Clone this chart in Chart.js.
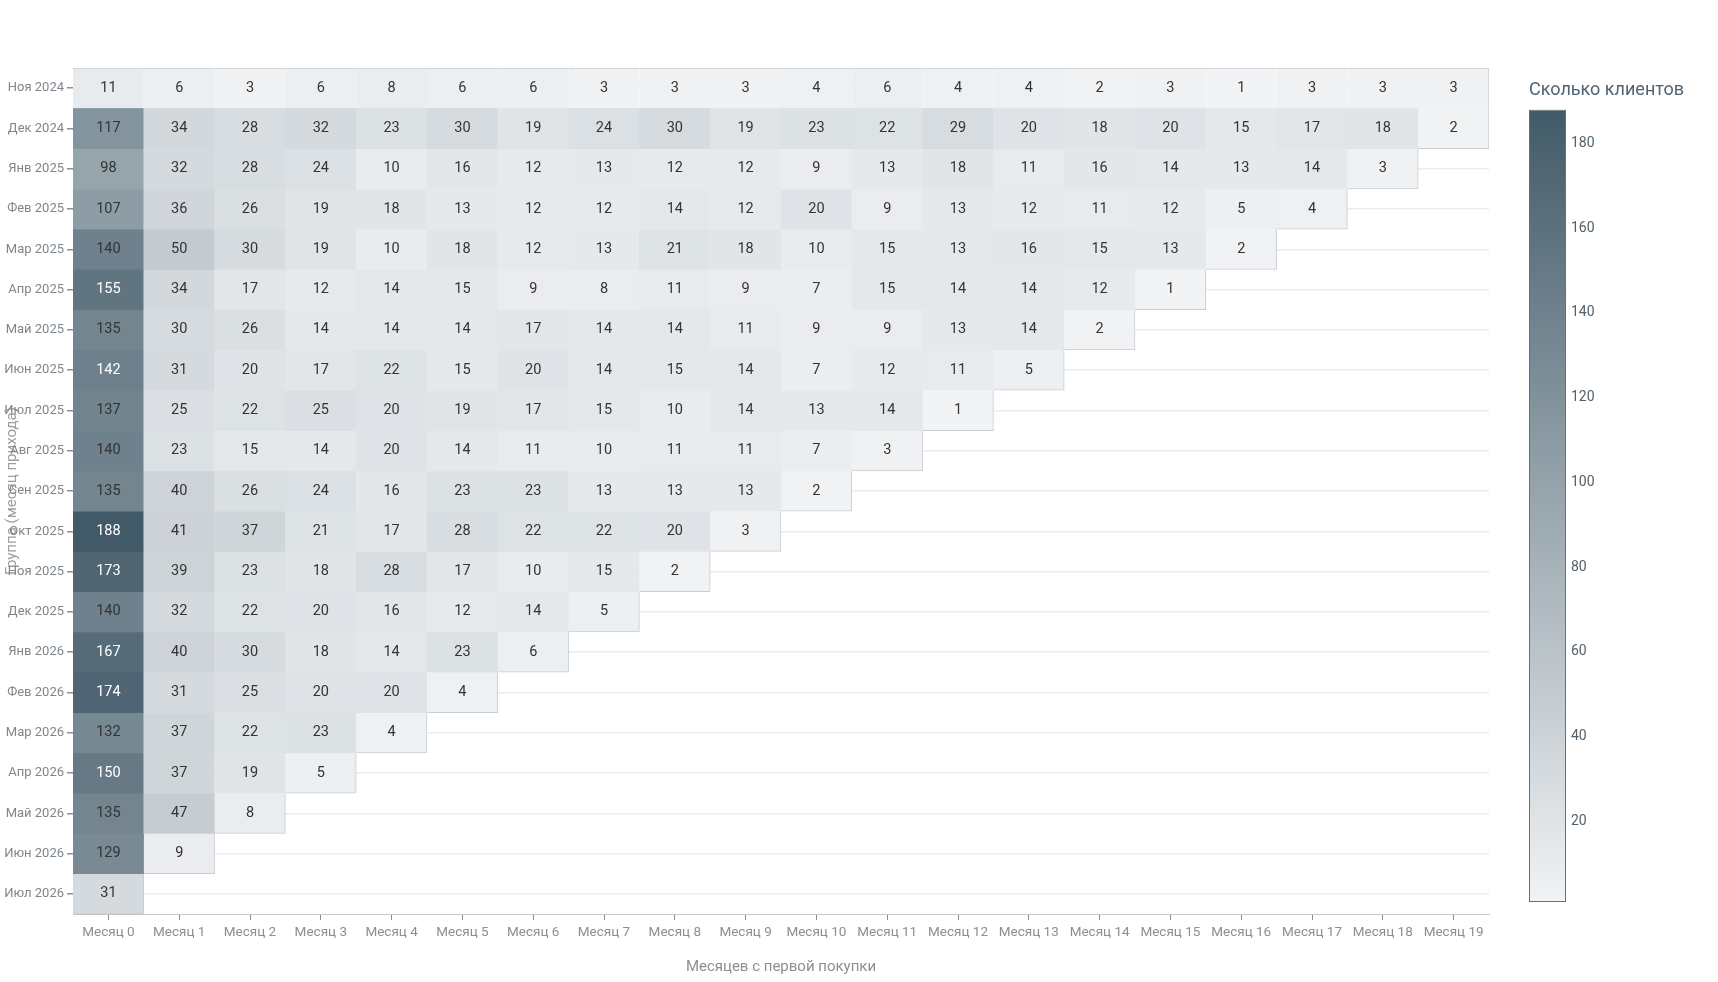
<!DOCTYPE html>
<html>
<head>
<meta charset="utf-8">
<script src="https://cdn.jsdelivr.net/npm/chart.js@4.4.1/dist/chart.umd.min.js"></script>
<style>
  html, body { margin: 0; padding: 0; background: #fff; }
  #wrap { position: relative; width: 1718px; height: 982px; }
  #main { position: absolute; left: 0; top: 0; }
  #cbar { position: absolute; left: 1529px; top: 0; }
</style>
</head>
<body>
<div id="wrap">
  <canvas id="main" width="1718" height="982"></canvas>
  <canvas id="cbar" width="189" height="982"></canvas>
</div>
<script>
// cohort rows (month of first purchase)
const cohorts = ['Ноя 2024','Дек 2024','Янв 2025','Фев 2025','Мар 2025','Апр 2025','Май 2025','Июн 2025',
  'Июл 2025','Авг 2025','Сен 2025','Окт 2025','Ноя 2025','Дек 2025','Янв 2026','Фев 2026',
  'Мар 2026','Апр 2026','Май 2026','Июн 2026','Июл 2026'];
// columns
const months = Array.from({length: 20}, (v, i) => 'Месяц ' + i);
// number of clients per cohort / month
const counts = [
  [11,6,3,6,8,6,6,3,3,3,4,6,4,4,2,3,1,3,3,3],
  [117,34,28,32,23,30,19,24,30,19,23,22,29,20,18,20,15,17,18,2],
  [98,32,28,24,10,16,12,13,12,12,9,13,18,11,16,14,13,14,3],
  [107,36,26,19,18,13,12,12,14,12,20,9,13,12,11,12,5,4],
  [140,50,30,19,10,18,12,13,21,18,10,15,13,16,15,13,2],
  [155,34,17,12,14,15,9,8,11,9,7,15,14,14,12,1],
  [135,30,26,14,14,14,17,14,14,11,9,9,13,14,2],
  [142,31,20,17,22,15,20,14,15,14,7,12,11,5],
  [137,25,22,25,20,19,17,15,10,14,13,14,1],
  [140,23,15,14,20,14,11,10,11,11,7,3],
  [135,40,26,24,16,23,23,13,13,13,2],
  [188,41,37,21,17,28,22,22,20,3],
  [173,39,23,18,28,17,10,15,2],
  [140,32,22,20,16,12,14,5],
  [167,40,30,18,14,23,6],
  [174,31,25,20,20,4],
  [132,37,22,23,4],
  [150,37,19,5],
  [135,47,8],
  [129,9],
  [31]
];
const cbTicks = [20, 40, 60, 80, 100, 120, 140, 160, 180];
const vMin = 1, vMax = 188;

const lightRGB = [241, 243, 245];
const darkRGB = [66, 90, 104];
function colorFor(v) {
  const t = Math.max(0, Math.min(1, (v - vMin) / (vMax - vMin)));
  const c = lightRGB.map((l, k) => Math.round(l + (darkRGB[k] - l) * t));
  return `rgb(${c[0]},${c[1]},${c[2]})`;
}

Chart.defaults.font.family = 'Roboto';

// one dataset per cohort row, cells as floating bars
const datasets = counts.map((row, r) => ({
  label: cohorts[r],
  data: row.map((v, c) => ({x: months[c], y: [r - 0.5, r + 0.5], v: v})),
  backgroundColor: row.map(v => colorFor(v)),
  borderColor: '#c9cdd1',
  borderWidth: row.map((v, c) => ({
    top: r === 0 ? 1 : 0,
    right: c === row.length - 1 ? 1 : 0,
    bottom: (r === counts.length - 1 || c >= counts[r + 1].length) ? 1 : 0,
    left: 0
  })),
  borderSkipped: false,
  grouped: false,
  barPercentage: 1,
  categoryPercentage: 1
}));

const cellText = {
  id: 'cellText',
  afterDatasetsDraw(chart) {
    const ctx = chart.ctx;
    ctx.save();
    ctx.font = '14.5px Roboto';
    ctx.textAlign = 'center';
    ctx.textBaseline = 'middle';
    chart.data.datasets.forEach((ds, i) => {
      chart.getDatasetMeta(i).data.forEach((el, j) => {
        const v = ds.data[j].v;
        const p = el.getCenterPoint();
        ctx.fillStyle = v > 141 ? '#ffffff' : '#333333';
        ctx.fillText(v, p.x, p.y);
      });
    });
    ctx.restore();
  }
};

new Chart(document.getElementById('main'), {
  type: 'bar',
  data: { labels: months, datasets: datasets },
  options: {
    responsive: false,
    animation: false,
    layout: { padding: { top: 68, right: 229, left: 0, bottom: 0 } },
    plugins: { legend: { display: false }, tooltip: { enabled: false } },
    scales: {
      x: {
        type: 'category',
        grid: { offset: false, drawOnChartArea: false, drawTicks: true, tickLength: 6, tickColor: '#8a8f94' },
        border: { color: '#c4c8cc' },
        ticks: { color: '#8a8f94', font: { size: 13.5 }, padding: 5, maxRotation: 0, autoSkip: false },
        title: { display: true, text: 'Месяцев с первой покупки', color: '#8a8f94', font: { size: 15 }, padding: { top: 0, bottom: 6 } },
        afterFit: s => { s.height = 68; }
      },
      y: {
        type: 'linear',
        reverse: true,
        min: -0.5,
        max: 20.5,
        afterBuildTicks: s => { s.ticks = cohorts.map((c, i) => ({ value: i })); },
        grid: { color: '#ececec', tickColor: '#8a8f94', tickLength: 6, lineWidth: 1.5 },
        border: { color: '#c4c8cc' },
        ticks: { color: '#7f868c', font: { size: 13 }, padding: 3, callback: v => cohorts[v] },
        title: { display: true, text: 'Группа (месяц прихода)', color: '#9a9fa4', font: { size: 15 }, padding: { top: 3, bottom: 0 } },
        afterFit: s => { s.width = 73; }
      }
    }
  },
  plugins: [cellText]
});

// colour bar
new Chart(document.getElementById('cbar'), {
  type: 'bar',
  data: {
    labels: [''],
    datasets: [{
      data: [[vMin, vMax]],
      backgroundColor: ctx => {
        const a = ctx.chart.chartArea;
        if (!a) return colorFor(vMax);
        const g = ctx.chart.ctx.createLinearGradient(0, a.bottom, 0, a.top);
        g.addColorStop(0, colorFor(vMin));
        g.addColorStop(1, colorFor(vMax));
        return g;
      },
      borderColor: '#6b6f73',
      borderWidth: 1,
      borderSkipped: false,
      barPercentage: 1,
      categoryPercentage: 1,
      inflateAmount: 0
    }]
  },
  options: {
    responsive: false,
    animation: false,
    layout: { padding: { top: 80, bottom: 80, left: 0, right: 0 } },
    plugins: {
      legend: { display: false },
      tooltip: { enabled: false },
      title: { display: true, text: 'Сколько клиентов', align: 'start', color: '#4f6370', font: { size: 18, weight: 'normal' }, padding: { top: 0, bottom: 8 } }
    },
    scales: {
      x: { display: false },
      y: {
        position: 'right',
        min: vMin,
        max: vMax,
        afterBuildTicks: s => { s.ticks = cbTicks.map(v => ({ value: v })); },
        grid: { display: false, drawTicks: false },
        border: { display: false },
        ticks: { color: '#52616b', font: { size: 14 }, padding: 5 },
        afterFit: s => { s.width = 152; }
      }
    }
  }
});
</script>
</body>
</html>
